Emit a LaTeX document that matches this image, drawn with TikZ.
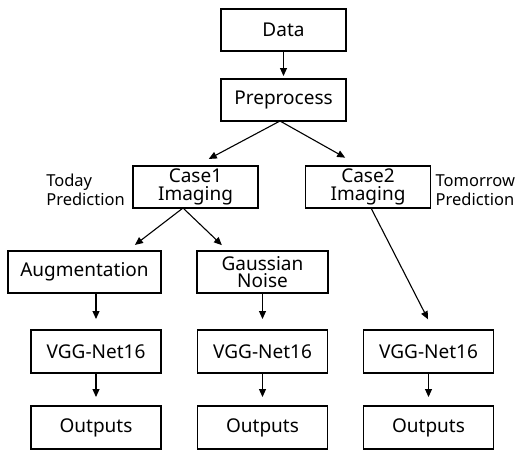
\documentclass[tikz,border=0pt]{standalone}
\usepackage{fontspec}
\setmainfont{Noto Sans}
\usetikzlibrary{arrows.meta, positioning}
\tikzset{
  >={Triangle[length=8pt, width=7pt]},
  box/.style={rectangle, draw=black, line width=1.3pt, align=center, outer sep=0pt,
              minimum width=125pt, minimum height=42pt, inner sep=2pt,
              font=\fontsize{19}{17.5}\selectfont},
  boxw/.style={box, minimum width=130pt, minimum height=43pt},
  flow/.style={->, line width=1.1pt, draw=black},
  lbl/.style={align=left, inner sep=0pt, font=\fontsize{16.5}{18.5}\selectfont},
}

\begin{document}
\begin{tikzpicture}[x=1pt, y=-1pt]
    \useasboundingbox (0,0) rectangle (518,452);
    % top
    \node[box] (data) at (283.5,30) {Data};
    \node[box, below=28pt of data] (prep) {Preprocess};
    \draw[flow, shorten >=3pt] (data) -- (prep);

    % two cases
    \node[box, below=45pt of prep, xshift=-88pt] (case1) {Case1\\Imaging};
    \node[box, below=45pt of prep, xshift=84.5pt] (case2) {Case2\\Imaging};
    \draw[flow, shorten >=15pt] ([xshift=-3.5pt]prep.south) -- (case1.north);
    \draw[flow, shorten >=17pt] ([xshift=-3.5pt]prep.south) -- ([xshift=-8pt]case2.north);
    \node[lbl, left=8pt of case1, yshift=-3pt] (today) {Today\\Prediction};
    \node[lbl, right=5pt of case2, yshift=-3pt] (tomorrow) {Tomorrow\\Prediction};

    % case1 branches
    \node[box, minimum width=153pt, below=43pt of case1, xshift=-111pt] (aug) {Augmentation};
    \node[box, minimum width=131pt, below=43pt of case1, xshift=67pt] (gauss) {Gaussian\\Noise};
    \draw[flow, shorten >=10pt] ([xshift=-12.5pt]case1.south) -- ([xshift=42.5pt]aug.north);
    \draw[flow, shorten >=8.5pt] ([xshift=-12.5pt]case1.south) -- ([xshift=-34.5pt]gauss.north);

    % networks
    \node[boxw, below=37pt of aug, xshift=11.5pt] (vgg1) {VGG-Net16};
    \node[boxw, below=37pt of gauss] (vgg2) {VGG-Net16};
    \node[boxw, below=122pt of case2, xshift=60.5pt] (vgg3) {VGG-Net16};
    \draw[flow, shorten >=11pt] (aug.south -| vgg1.north) -- (vgg1.north);
    \draw[flow, shorten >=11pt] (gauss) -- (vgg2);
    \draw[flow, shorten >=12pt] ([xshift=3pt]case2.south) -- ([xshift=5pt]vgg3.north);

    % outputs
    \foreach \i in {1,2,3}{
      \node[boxw, below=33pt of vgg\i] (out\i) {Outputs};
      \draw[flow, shorten >=9pt] (vgg\i) -- (out\i);
    }
\end{tikzpicture}
\end{document}
